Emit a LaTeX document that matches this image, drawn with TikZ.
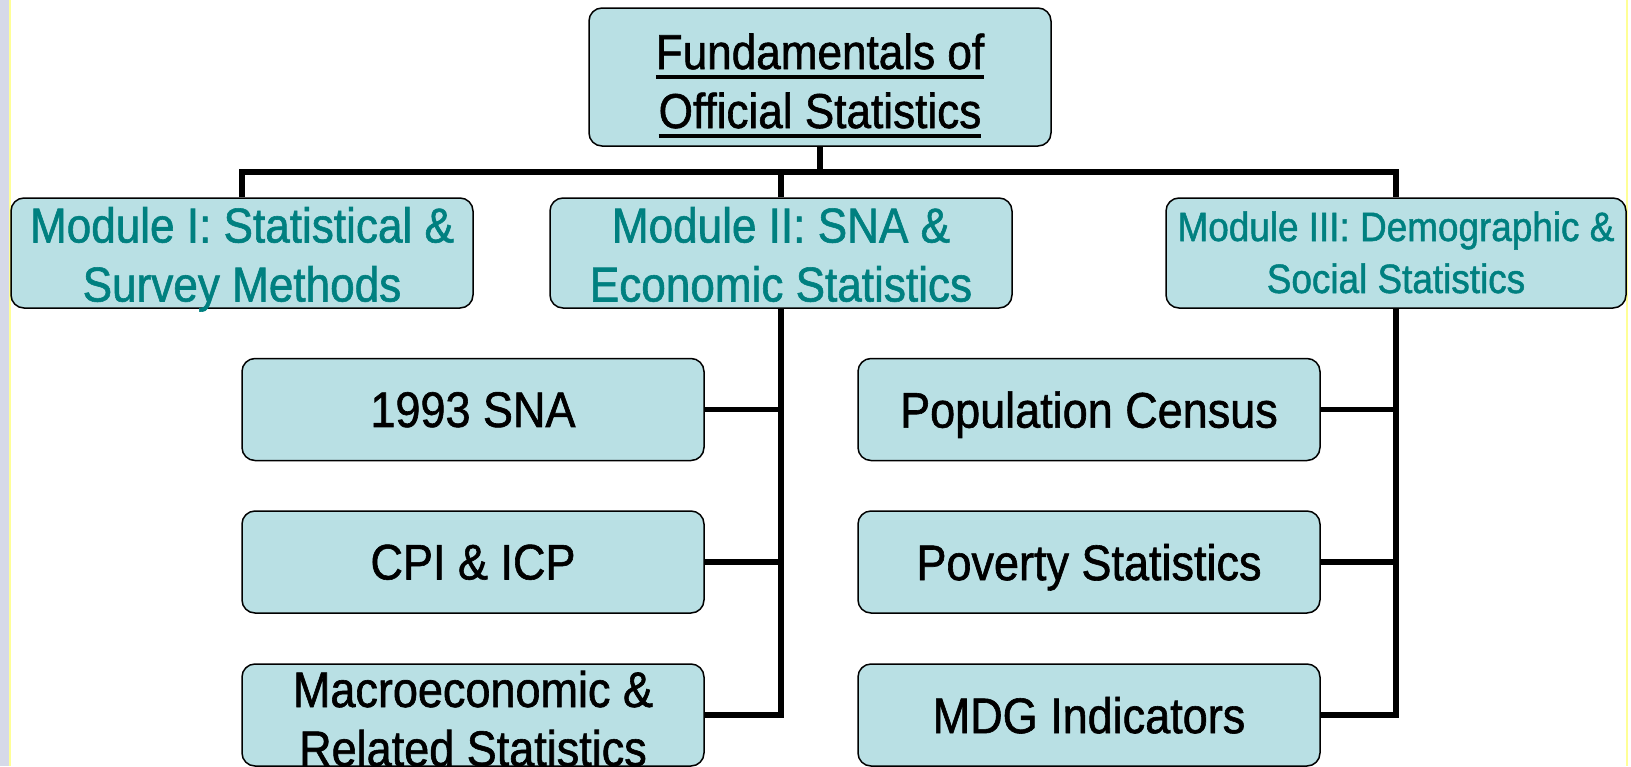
\documentclass[tikz,border=0pt]{standalone}
\usepackage{fontspec}
\setmainfont{Liberation Sans}[FakeStretch=0.9, FakeBold=1.2]
\usetikzlibrary{
	scopes, backgrounds
}
\definecolor{celeste}{RGB}{185,224,228}
\definecolor{verde}{RGB}{0,128,128}
\definecolor{lila}{RGB}{214,217,232}
\definecolor{amarillo}{RGB}{255,255,150}
\def\W{462}
\newcommand\subrayado[1]{%
	\setbox0\hbox{#1}\rlap{\rule[-9.5pt]{\wd0}{3.5pt}}\box0}

\begin{document}
\begin{tikzpicture}[
	x = 1pt, y = -1pt,
	caja/.style = {
		draw, line width = 1.5pt, fill = celeste,
		rounded corners = 13pt, inner sep = 0pt,
		minimum width = \W pt, align = center, text depth = 0pt
	},
	modulo/.style = {
		caja, minimum height = 110pt, text height = 97pt,
		text = verde, font = \fontsize{49}{59}\selectfont
	},
	tema/.style = {
		caja, minimum height = 102pt,
		font = \fontsize{50}{59}\selectfont
	},
	conector/.style = {line width = 5.5pt},
]

	% márgenes del dibujo
	\useasboundingbox (0,0) rectangle (1631,766);

	% título
	\node[caja, minimum height = 138pt, text height = 102pt,
		font = \fontsize{49}{59}\selectfont]
		(fos) at (820,77)
		{\subrayado{Fundamentals of}\\\subrayado{Official Statistics}};

	% módulos
	\node[modulo] (m1) at (242,253) {Module I: Statistical \&\\Survey Methods};
	\node[modulo] (m2) at (781,253) {Module II: SNA \&\\Economic Statistics};
	\node[modulo, minimum width = 460pt, text height = 80pt,
		font = \fontsize{41}{52}\selectfont]
		(m3) at (1396,253) {Module III: Demographic \&\\Social Statistics};

	% temas del módulo II
	\node[tema] (e1) at (473,409.5) {1993 SNA};
	\node[tema] (e2) at (473,562) {CPI \& ICP};
	\node[tema, text height = 102pt] (e3) at (473,715)
		{Macroeconomic \&\\Related Statistics};

	% temas del módulo III
	\node[tema] (s1) at (1089,409.5) {Population Census};
	\node[tema] (s2) at (1089,562) {Poverty Statistics};
	\node[tema] (s3) at (1089,715) {MDG Indicators};

	\coordinate (bus) at (820,172);

	% conectores y bordes
	{[on background layer]

	\fill[lila] (0,0) rectangle (9,766);
	\fill[amarillo] (9,0) rectangle (11,766);
	\fill[amarillo] (1626,0) rectangle (1628,766);

	\draw[conector] (fos.south) -- (bus);
	\draw[conector]
		(m1.north) -- (m1.north |- bus)
		-- (m3.north |- bus) -- (m3.north);
	\draw[conector] (m2.north) -- (m2.north |- bus);

	\draw[conector] (m2.south) |- (e3.east);
	\foreach \e in {e1,e2}
		\draw[conector] (\e.east) -- (\e.east -| m2.south);

	\draw[conector] (m3.south) |- (s3.east);
	\foreach \s in {s1,s2}
		\draw[conector] (\s.east) -- (\s.east -| m3.south);
	}

\end{tikzpicture}
\end{document}
